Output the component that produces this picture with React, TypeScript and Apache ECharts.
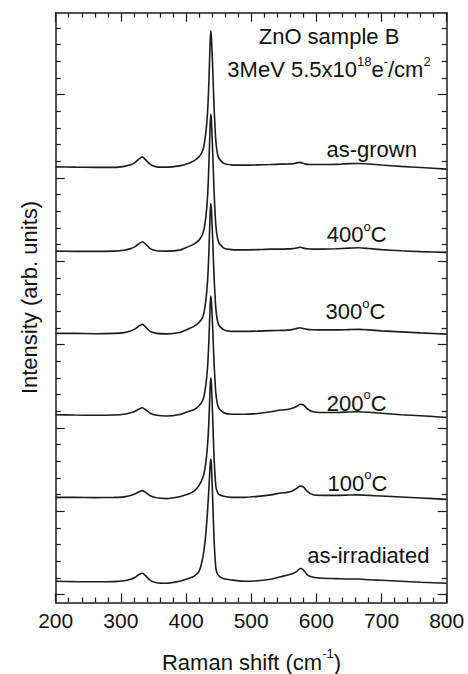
import React, { useEffect, useRef } from 'react';
import * as echarts from 'echarts';

// Raman shift sample positions (cm^-1)
const ramanShift = [
  200, 230, 260, 290, 305, 315, 322, 328, 333, 338,
  345, 355, 370, 390, 402, 412, 420, 426, 430, 433,
  435, 437, 438, 439, 441, 443, 446, 450, 458, 470,
  490, 510, 530, 545, 555, 563, 570, 575, 580, 586,
  595, 610, 630, 650, 665, 680, 700, 730, 760, 800,
];

// Spectra relative to each trace's own baseline (arb. units)
const asGrown = [
  0, -0.3, -0.5, -0.5, 0.5, 2, 4.5, 8, 10, 7,
  2.5, 0, -0.3, 1, 3, 6, 10, 17, 32, 54,
  84, 125, 136, 129, 98, 60, 24, 9, 3.5, 2,
  1.7, 2, 2.3, 2.7, 2.8, 3, 4, 4.5, 3.5, 2.5,
  2.3, 2.3, 2.5, 3.2, 3.3, 2.8, 1.8, 0.5, -0.7, -2.3,
];
const anneal400 = [
  0, -0.3, -0.3, 0, 0.8, 2.5, 4.5, 7.5, 9.3, 7,
  2.5, 0.3, 0, 1, 4, 7, 11, 18, 32, 54,
  85, 126, 137, 130, 98, 60, 24, 9, 3, 1.5,
  1.2, 1.5, 2, 2, 2.2, 2.5, 3.2, 3.8, 3, 2.3,
  2, 2, 2.3, 3, 3.3, 2.6, 1.5, 0.3, -0.5, -1.3,
];
const anneal300 = [
  0, 0, -0.3, 0, 0.8, 2.5, 4.5, 7.5, 9, 6.5,
  2, 0, -0.5, 0.8, 4, 7, 11, 17, 31, 52,
  80, 120, 130, 123, 93, 57, 23, 8.5, 3.5, 2,
  2, 2.3, 2.8, 3, 3.3, 3.8, 5, 5.7, 4.8, 4,
  3.7, 3.5, 3.5, 3.8, 4, 3.5, 2.5, 1.5, 0.5, -0.7,
];
const anneal200 = [
  0, -0.3, -0.5, -0.3, 0.5, 2, 3.5, 5.8, 7, 5,
  1.5, -0.5, -1.3, 0.3, 3, 5, 9, 15, 28, 47,
  73, 109, 118.7, 113, 85, 52, 20, 7, 2, 0.5,
  0.5, 1.3, 3, 4.8, 5.3, 6.5, 8.5, 10.5, 10, 6,
  3, 2.3, 2.3, 2.8, 3, 2.5, 1.5, 0, -1, -2.7,
];
const anneal100 = [
  0, 0, -0.3, 0, 0.5, 1.8, 3.5, 5.5, 6.7, 5,
  1.5, -0.5, -1.3, 0.5, 3, 6, 12, 20, 33, 52,
  75, 110, 119.6, 113, 78, 40, 10, 3, 1, 0,
  0, 1, 2.5, 4.3, 5, 6.3, 9, 11.2, 10.5, 6,
  2.5, 2, 2, 2.3, 2.5, 2, 1.3, 0.3, -0.7, -2,
];
const asIrradiated = [
  0, -0.3, -0.5, -0.3, 0.5, 2, 4, 6.8, 8, 5.5,
  1, -1.5, -2, 0, 2.5, 5, 10, 25, 45, 70,
  92, 116, 122.3, 116, 80, 42, 12, 5.5, 2.5, 1.3,
  0, 0.5, 2, 4.5, 6, 7.5, 10, 12.8, 11.5, 6.5,
  4, 3, 2.7, 2.3, 2.3, 1.5, 1, 0, -1, -2,
];

const seriesNames = ['as-grown', '400°C', '300°C', '200°C', '100°C', 'as-irradiated'];
const verticalOffsets = [435.8, 351.5, 269.2, 187.8, 105.2, 21.2];
const spectra = [asGrown, anneal400, anneal300, anneal200, anneal100, asIrradiated];

const yMajorTicks = [8, 91.3, 174.7, 258, 341.3, 424.7, 508];
const yMinorTicks = [
  24.7, 41.3, 58, 74.7, 108, 124.7, 141.3, 158, 191.3, 208, 224.7, 241.3,
  274.7, 291.3, 308, 324.7, 358, 374.7, 391.3, 408, 441.3, 458, 474.7, 491.3,
  524.7, 541.3, 558, 574.7,
];

const FF = "'Liberation Sans', Arial, Helvetica, sans-serif";
const INK = '#1c1c1c';

function xAxisDef(position: 'top' | 'bottom') {
  return {
    type: 'value',
    position,
    min: 200,
    max: 800,
    interval: 100,
    axisLine: { show: true, onZero: false, lineStyle: { color: INK, width: 1.5 } },
    axisTick: { show: true, inside: true, length: 9, lineStyle: { color: INK, width: 1.2 } },
    minorTick: { show: true, splitNumber: 5, length: 5, lineStyle: { color: INK, width: 1.2 } },
    splitLine: { show: false },
    minorSplitLine: { show: false },
    axisLabel: {
      show: position === 'bottom',
      color: '#111',
      fontSize: 21,
      fontFamily: FF,
      margin: 7,
    },
  };
}

function yAxisDef(position: 'left' | 'right', ticks: number[], len: number, line: boolean) {
  return {
    type: 'value',
    position,
    min: 0,
    max: 590,
    axisLine: { show: line, onZero: false, lineStyle: { color: INK, width: 1.5 } },
    axisTick: {
      show: true,
      inside: true,
      length: len,
      customValues: ticks,
      lineStyle: { color: INK, width: 1.2 },
    },
    axisLabel: { show: false },
    splitLine: { show: false },
  };
}

const rich = {
  n: { fontSize: 22, fontFamily: FF, fill: '#111', color: '#111', lineHeight: 30 },
  s: { fontSize: 13, fontFamily: FF, fill: '#111', color: '#111', verticalAlign: 'top', lineHeight: 30 },
};

function label(x: number, y: number, text: string, rotation = 0) {
  return {
    type: 'text',
    x,
    y,
    rotation,
    silent: true,
    style: {
      text,
      rich,
      font: `22px ${FF}`,
      fill: '#111',
      align: 'center',
      verticalAlign: 'middle',
    },
  };
}

export default function App() {
  const ref = useRef<HTMLDivElement>(null);

  useEffect(() => {
    if (!ref.current) return;
    const chart = echarts.init(ref.current, undefined, { renderer: 'svg' });

    const series = spectra.map((profile, si) => ({
      name: seriesNames[si],
      type: 'line',
      xAxisIndex: 0,
      yAxisIndex: 0,
      showSymbol: false,
      symbol: 'none',
      smooth: 0.2,
      lineStyle: { color: INK, width: 1.6 },
      data: ramanShift.map((x, i) => [x, verticalOffsets[si] + profile[i]]),
    }));

    const option = {
      animation: false,
      grid: {
        left: 55.7,
        right: 21.3,
        top: 12.7,
        bottom: 71.5,
        containLabel: false,
        outerBoundsMode: 'none',
      },
      xAxis: [xAxisDef('bottom'), xAxisDef('top')],
      yAxis: [
        yAxisDef('left', yMajorTicks, 9, true),
        yAxisDef('left', yMinorTicks, 5, false),
        yAxisDef('right', yMajorTicks, 9, true),
        yAxisDef('right', yMinorTicks, 5, false),
      ],
      series,
      graphic: [
        label(329, 36.4, '{n|ZnO sample B}'),
        label(329, 69.7, '{n|3MeV 5.5x10}{s|18}{n|e}{s|-}{n|/cm}{s|2}'),
        label(371.7, 149, '{n|as-grown}'),
        label(356.7, 234.7, '{n|400}{s|o}{n|C}'),
        label(355.5, 311.7, '{n|300}{s|o}{n|C}'),
        label(356.7, 403, '{n|200}{s|o}{n|C}'),
        label(357.5, 483.4, '{n|100}{s|o}{n|C}'),
        label(368.3, 555.7, '{n|as-irradiated}'),
        label(251.5, 662.4, '{n|Raman shift (cm}{s|-1}{n|)}'),
        label(29, 297.5, '{n|Intensity (arb. units)}', Math.PI / 2),
      ],
    };

    chart.setOption(option as any);
    return () => chart.dispose();
  }, []);

  return (
    <div
      ref={ref}
      style={{ position: 'fixed', left: 0, top: 0, width: 468, height: 674, background: '#fff' }}
    />
  );
}
